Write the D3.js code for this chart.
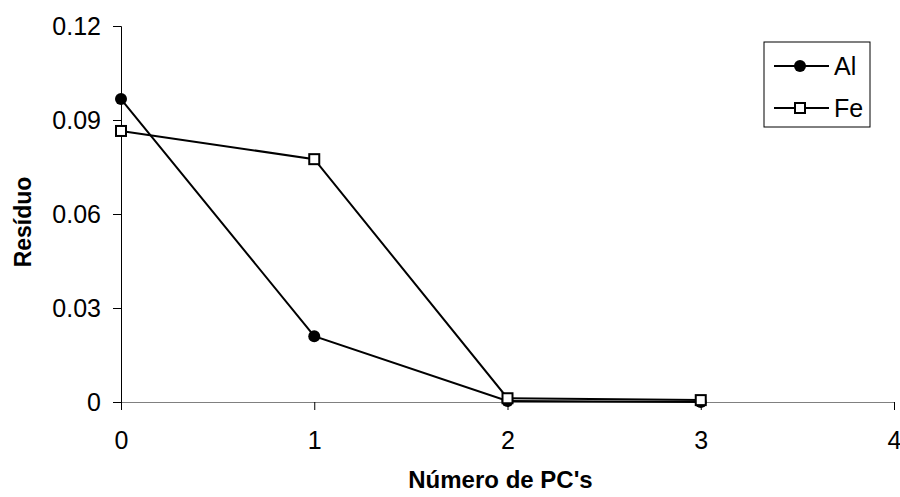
<!DOCTYPE html>
<html lang="en">
<head>
<script src='https://d3js.org/d3.v7.min.js'></script>
</head>
<body style="margin:0;background:#fff">
<style>
svg text { font-family: "Liberation Sans", Arial, sans-serif; fill: #000; }
</style>
<script>
// data
var pcs = [0, 1, 2, 3];
var al = [0.0967, 0.021, 0.0003, 0.0];
var fe = [0.0865, 0.0775, 0.0012, 0.0006];
var xTicks = [0, 1, 2, 3, 4];
var yTicks = [0, 0.03, 0.06, 0.09, 0.12];
var seriesNames = ["Al", "Fe"];

var width = 900, height = 497;
var plotLeft = 121, plotRight = 894, plotTop = 26, plotBottom = 402;

var svg = d3.select("body").append("svg")
  .attr("width", width)
  .attr("height", height);

var x = d3.scaleLinear().domain([0, 4]).range([plotLeft, plotRight]);
var y = d3.scaleLinear().domain([0, 0.12]).range([plotBottom, plotTop]);

// y axis
var yAxis = d3.axisLeft(y).tickValues(yTicks).tickSize(8).tickPadding(12)
  .tickFormat(function(d) { return d === 0 ? "0" : d3.format(".2f")(d); });
var gy = svg.append("g").attr("transform", "translate(" + plotLeft + ",0)").call(yAxis);
gy.selectAll("text").style("font-size", "25px");
gy.select(".domain").attr("stroke", "#000");

// x axis
var xAxis = d3.axisBottom(x).tickValues(xTicks).tickSize(8).tickPadding(21)
  .tickFormat(d3.format("d"));
var gx = svg.append("g").attr("transform", "translate(0," + plotBottom + ")").call(xAxis);
gx.selectAll("text").style("font-size", "25px");
gx.select(".domain").attr("stroke", "#808080");

// titles
svg.append("text")
  .attr("x", (plotLeft + plotRight) / 2 - 7)
  .attr("y", 488)
  .attr("text-anchor", "middle")
  .style("font-size", "24px").style("font-weight", "bold")
  .text("Número de PC's");

svg.append("text")
  .attr("transform", "translate(31,222) rotate(-90)")
  .attr("text-anchor", "middle")
  .style("font-size", "23px").style("font-weight", "bold")
  .text("Resíduo");

var line = d3.line()
  .x(function(d, i) { return x(pcs[i]); })
  .y(function(d) { return y(d); });

// Al series
svg.append("path").datum(al)
  .attr("d", line).attr("fill", "none").attr("stroke", "#000").attr("stroke-width", 2);
svg.selectAll("circle.al").data(al).enter().append("circle")
  .attr("class", "al")
  .attr("cx", function(d, i) { return x(pcs[i]); })
  .attr("cy", function(d) { return y(d); })
  .attr("r", 6).attr("fill", "#000");

// Fe series
svg.append("path").datum(fe)
  .attr("d", line).attr("fill", "none").attr("stroke", "#000").attr("stroke-width", 2);
svg.selectAll("rect.fe").data(fe).enter().append("rect")
  .attr("class", "fe")
  .attr("x", function(d, i) { return x(pcs[i]) - 5; })
  .attr("y", function(d) { return y(d) - 5; })
  .attr("width", 10).attr("height", 10)
  .attr("fill", "#fff").attr("stroke", "#000").attr("stroke-width", 2);

// legend
var lg = svg.append("g").attr("transform", "translate(764,42)");
lg.append("rect").attr("width", 106).attr("height", 85)
  .attr("fill", "#fff").attr("stroke", "#000").attr("stroke-width", 1);
seriesNames.forEach(function(name, i) {
  var ly = 24 + i * 42;
  lg.append("line").attr("x1", 10).attr("x2", 65).attr("y1", ly).attr("y2", ly)
    .attr("stroke", "#000").attr("stroke-width", 2);
  if (i === 0) {
    lg.append("circle").attr("cx", 36).attr("cy", ly).attr("r", 6).attr("fill", "#000");
  } else {
    lg.append("rect").attr("x", 31).attr("y", ly - 5).attr("width", 10).attr("height", 10)
      .attr("fill", "#fff").attr("stroke", "#000").attr("stroke-width", 2);
  }
  lg.append("text").attr("x", 70).attr("y", ly + 9)
    .style("font-size", "25px").text(name);
});
</script>
</body>
</html>
